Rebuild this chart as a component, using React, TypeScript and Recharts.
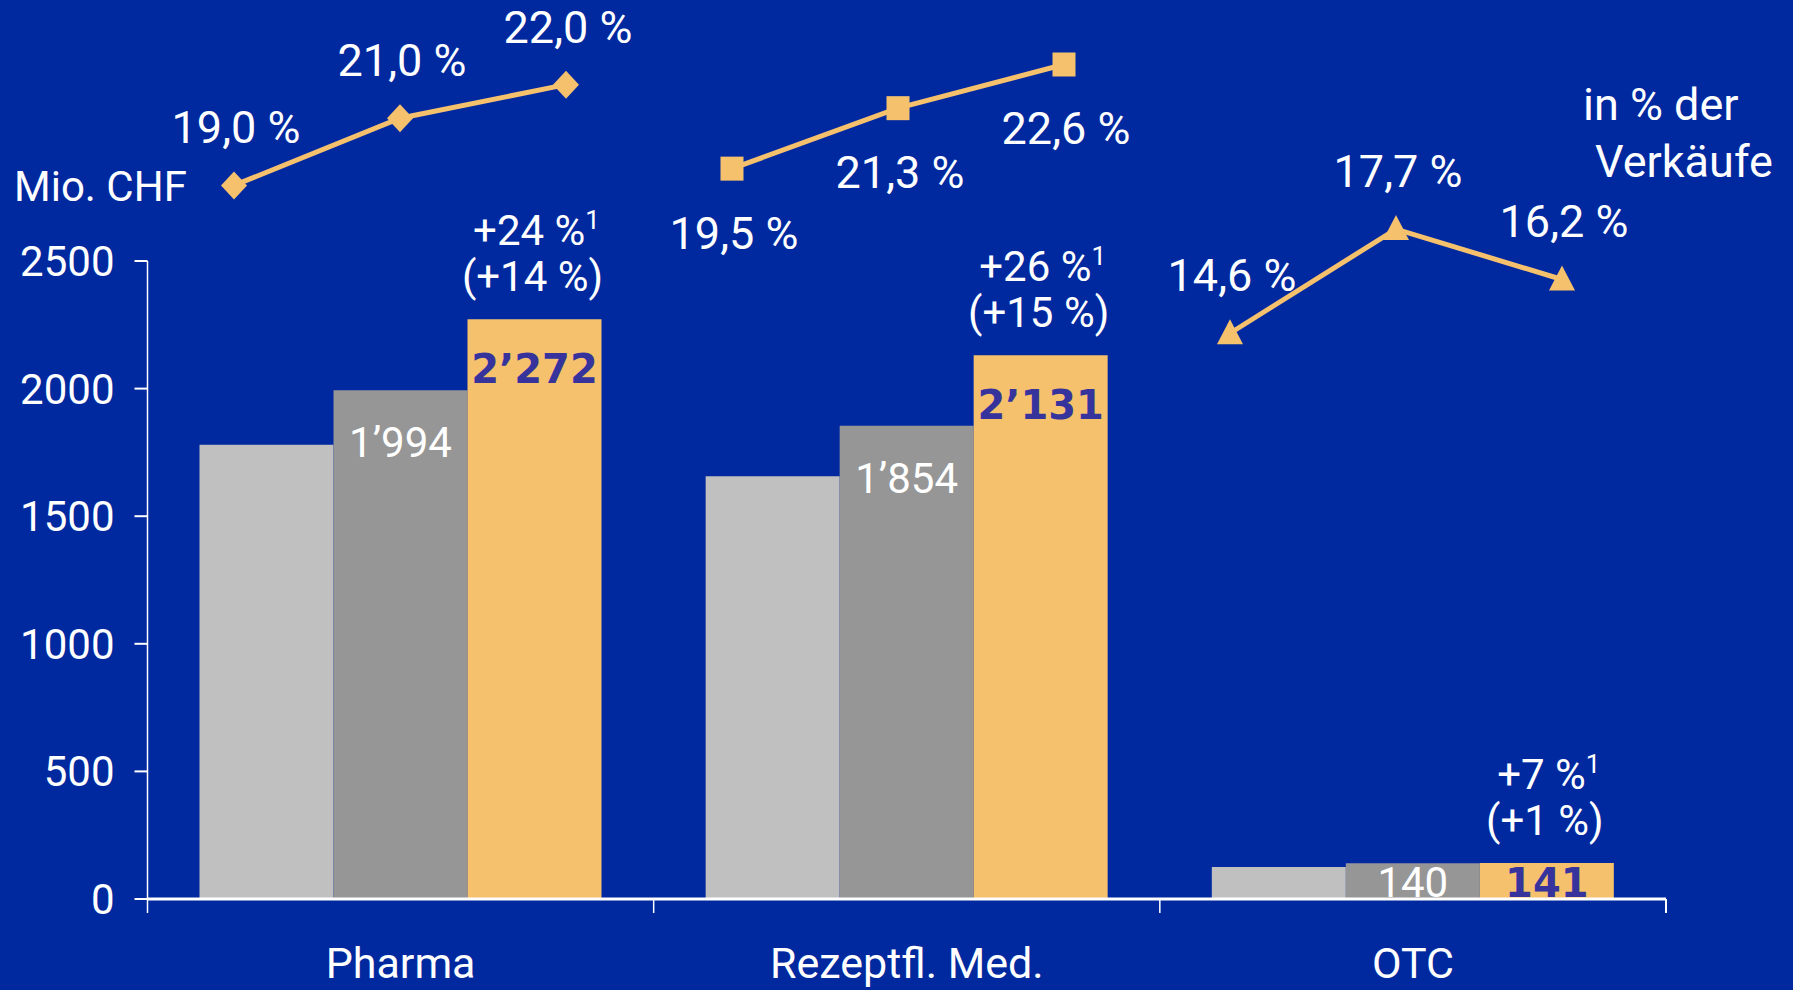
import React from 'react';
import { ComposedChart, Bar, XAxis, YAxis, LabelList, LineChart, Line } from 'recharts';

const CATEGORIES = ['Pharma', 'Rezeptfl. Med.', 'OTC'];
const SALES_Y1 = [1780, 1657, 125];
const SALES_Y2 = [1994, 1854, 140];
const SALES_Y3 = [2272, 2131, 141];
const GROWTH = ['+24 %', '+26 %', '+7 %'];
const GROWTH_LOCAL = ['(+14 %)', '(+15 %)', '(+1 %)'];
const Y_TICKS = [0, 500, 1000, 1500, 2000, 2500];

// Umsatzrendite in % der Verkäufe, je Segment drei Jahre
const PHARMA_PCT = [19.0, 21.0, 22.0];
const REZEPT_PCT = [19.5, 21.3, 22.6];
const OTC_PCT = [14.6, 17.7, 16.2];

const W = 1793;
const H = 990;
const PLOT_LEFT = 147.5;
const PLOT_RIGHT = 1666;
const PLOT_BOTTOM = 899;
const BAND = (PLOT_RIGHT - PLOT_LEFT) / CATEGORIES.length;

const BG = '#0029A0';
const GOLD = '#F5C16C';
const LIGHT = '#C0C0C0';
const MID = '#969696';
const INK = '#36339C';
const FONT = 'Roboto, "Liberation Sans", sans-serif';

const barData = CATEGORIES.map((name, i) => ({
  name,
  y1: SALES_Y1[i],
  y2: SALES_Y2[i],
  y3: SALES_Y3[i],
}));

const lineData = Array.from({ length: 9 }, (_, i) => ({
  x: i,
  pharma: i < 3 ? PHARMA_PCT[i] : null,
  rezept: i >= 3 && i < 6 ? REZEPT_PCT[i - 3] : null,
  otc: i >= 6 ? OTC_PCT[i - 6] : null,
}));

const fmtSales = (n: number) =>
  n >= 1000 ? `${Math.floor(n / 1000)}\u2019${String(n % 1000).padStart(3, '0')}` : String(n);
const fmtPct = (n: number) => `${n.toFixed(1).replace('.', ',')} %`;

function XTick(props: any) {
  const { x, payload, index } = props;
  const half = BAND / 2;
  return (
    <g>
      <line x1={x - half} x2={x - half} y1={PLOT_BOTTOM} y2={PLOT_BOTTOM + 14} stroke="#fff" strokeWidth={1.5} />
      {index === CATEGORIES.length - 1 && (
        <line x1={x + half} x2={x + half} y1={PLOT_BOTTOM} y2={PLOT_BOTTOM + 14} stroke="#fff" strokeWidth={2} />
      )}
      <text x={x} y={978} textAnchor="middle" fill="#fff" fontSize={43} fontFamily={FONT}>
        {payload.value}
      </text>
    </g>
  );
}

function MidLabel(props: any) {
  const { x, y, width, value } = props;
  if (value == null) return null;
  return (
    <text x={x + width / 2} y={Math.min(y + 67, PLOT_BOTTOM - 2)} textAnchor="middle" fill="#fff" fontSize={42} fontFamily={FONT}>
      {fmtSales(value)}
    </text>
  );
}

function TopLabel(props: any) {
  const { x, y, width, value, index } = props;
  if (value == null) return null;
  const cx = x + width / 2;
  return (
    <g>
      <text x={cx} y={Math.min(y + 64, PLOT_BOTTOM - 2)} textAnchor="middle" fill={INK} fontSize={40} fontWeight="bold" fontFamily='"DejaVu Sans", sans-serif'>
        {fmtSales(value)}
      </text>
      <text x={cx + 2} y={y - 74} textAnchor="middle" fill="#fff" fontSize={42} fontFamily={FONT}>
        <tspan>{GROWTH[index]}</tspan>
        <tspan dy={-16} fontSize={26}>1</tspan>
      </text>
      <text x={cx - 2} y={y - 28} textAnchor="middle" fill="#fff" fontSize={42} fontFamily={FONT}>
        {GROWTH_LOCAL[index]}
      </text>
    </g>
  );
}

const pctLabel = (below: boolean) => (props: any) => {
  const { x, y, value } = props;
  if (value == null || y == null) return null;
  return (
    <text x={x + 2} y={below ? y + 80 : y - 42} textAnchor="middle" fill="#fff" fontSize={45} fontFamily={FONT}>
      {fmtPct(value)}
    </text>
  );
};

const diamondDot = (p: any) => {
  const { cx, cy, index, value } = p;
  if (value == null || cy == null) return <g key={`d${index}`} />;
  return <polygon key={`d${index}`} points={`${cx},${cy - 14} ${cx + 13},${cy} ${cx},${cy + 14} ${cx - 13},${cy}`} fill={GOLD} />;
};
const squareDot = (p: any) => {
  const { cx, cy, index, value } = p;
  if (value == null || cy == null) return <g key={`s${index}`} />;
  return <rect key={`s${index}`} x={cx - 11.5} y={cy - 12} width={23} height={24} fill={GOLD} />;
};
const triangleDot = (p: any) => {
  const { cx, cy, index, value } = p;
  if (value == null || cy == null) return <g key={`t${index}`} />;
  return <polygon key={`t${index}`} points={`${cx},${cy - 14} ${cx + 13},${cy + 11} ${cx - 13},${cy + 11}`} fill={GOLD} />;
};

export default function App() {
  return (
    <div style={{ position: 'fixed', left: 0, top: 0, width: W, height: H, background: BG, overflow: 'hidden' }}>
      <div style={{ position: 'absolute', left: 0, top: 0 }}>
        <ComposedChart width={W} height={H} data={barData} barGap={0} margin={{ top: 261, right: W - PLOT_RIGHT, bottom: 11, left: 27.5 }}>
          <XAxis
            dataKey="name"
            interval={0}
            height={80}
            axisLine={{ stroke: '#fff', strokeWidth: 3 }}
            tickLine={false}
            tick={<XTick />}
          />
          <YAxis
            width={120}
            domain={[0, 2500]}
            ticks={Y_TICKS}
            interval={0}
            tickSize={13}
            tickMargin={20}
            axisLine={{ stroke: '#fff', strokeWidth: 1.5 }}
            tickLine={{ stroke: '#fff', strokeWidth: 2 }}
            tick={{ fill: '#fff', fontSize: 42, fontFamily: FONT }}
          />
          <Bar dataKey="y1" fill={LIGHT} barSize={134} isAnimationActive={false} />
          <Bar dataKey="y2" fill={MID} barSize={134} isAnimationActive={false}>
            <LabelList dataKey="y2" content={<MidLabel />} />
          </Bar>
          <Bar dataKey="y3" fill={GOLD} barSize={134} isAnimationActive={false}>
            <LabelList dataKey="y3" content={<TopLabel />} />
          </Bar>
        </ComposedChart>
      </div>
      <div style={{ position: 'absolute', left: 0, top: 0 }}>
        <LineChart width={W} height={H} data={lineData} margin={{ top: 0, right: 231, bottom: 0, left: 234 }}>
          <XAxis type="number" dataKey="x" domain={[0, 8]} hide />
          <YAxis type="number" domain={[-4.95, 24.52]} allowDataOverflow hide />
          <Line dataKey="pharma" stroke={GOLD} strokeWidth={5} dot={diamondDot} connectNulls={false} isAnimationActive={false}>
            <LabelList dataKey="pharma" content={pctLabel(false)} />
          </Line>
          <Line dataKey="rezept" stroke={GOLD} strokeWidth={5} dot={squareDot} connectNulls={false} isAnimationActive={false}>
            <LabelList dataKey="rezept" content={pctLabel(true)} />
          </Line>
          <Line dataKey="otc" stroke={GOLD} strokeWidth={5} dot={triangleDot} connectNulls={false} isAnimationActive={false}>
            <LabelList dataKey="otc" content={pctLabel(false)} />
          </Line>
        </LineChart>
      </div>
      <svg width={W} height={H} style={{ position: 'absolute', left: 0, top: 0, pointerEvents: 'none' }}>
        <text x={14} y={201} fill="#fff" fontSize={42} fontFamily={FONT}>Mio. CHF</text>
        <text x={1583} y={120} fill="#fff" fontSize={45} fontFamily={FONT}>in % der</text>
        <text x={1595} y={177} fill="#fff" fontSize={45} fontFamily={FONT}>Verkäufe</text>
      </svg>
    </div>
  );
}
